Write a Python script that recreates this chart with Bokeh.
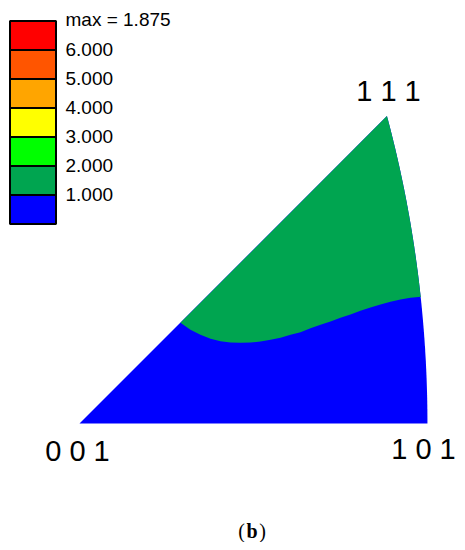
import numpy as np
from bokeh.plotting import figure
from bokeh.models import Range1d, Label
from bokeh.embed import file_html
from bokeh.resources import INLINE

# ---- data ----
legend_colors = ["#FF0000", "#FF5500", "#FFA500", "#FFFF00", "#00FF00", "#00A550", "#0000FF"]
legend_labels = ["max = 1.875", "6.000", "5.000", "4.000", "3.000", "2.000", "1.000"]
pole_labels = ["0 0 1", "1 0 1", "1 1 1"]
# green / blue contour (level 1.000) in stereographic coordinates
contour_x = [0.1202, 0.1321, 0.1440, 0.1560, 0.1679, 0.1798, 0.1917, 0.2036, 0.2155,
             0.2274, 0.2393, 0.2512, 0.2631, 0.2750, 0.2869, 0.2988, 0.3107, 0.3226,
             0.3345, 0.3464, 0.3583, 0.3702, 0.3821, 0.3940, 0.4066]
contour_y = [0.1199, 0.1115, 0.1056, 0.1008, 0.0980, 0.0964, 0.0961, 0.0964, 0.0976,
             0.0996, 0.1020, 0.1057, 0.1086, 0.1135, 0.1175, 0.1214, 0.1258, 0.1298,
             0.1342, 0.1381, 0.1417, 0.1449, 0.1476, 0.1496, 0.1508]
low_color = "#0000FF"
high_color = "#00A550"

# ---- geometry of the standard stereographic triangle ----
t_apex = np.arctan(1 / np.sqrt(2))
t = np.linspace(0, t_apex, 200)
ax_ = (np.cos(t) / np.sqrt(2)) / (1 + np.cos(t) / np.sqrt(2))
ay_ = np.sin(t) / (1 + np.cos(t) / np.sqrt(2))

S = 840.0
def PX(x):
    return (x - 79) / S
def PY(y):
    return (423 - y) / S

W, H = 457, 542
p = figure(width=W, height=H, output_backend="svg", toolbar_location=None,
           x_range=Range1d(PX(0), PX(W)), y_range=Range1d(PY(H), PY(0)),
           min_border=0)
p.axis.visible = False
p.grid.visible = False
p.outline_line_color = None

# blue full triangle
tri_x = [0.0] + list(ax_) + [0.0]
tri_y = [0.0] + list(ay_) + [0.0]
p.patch(tri_x, tri_y, fill_color=low_color, line_color=None)

# green region above contour
mask = ay_ > contour_y[-1]
gx = list(contour_x) + list(ax_[mask])
gy = list(contour_y) + list(ay_[mask])
p.patch(gx, gy, fill_color=high_color, line_color=None)

# legend boxes
tops = [20.5, 49.5, 78.5, 107.5, 136.5, 165.5, 194.5]
bh = 29
p.quad(left=[PX(9.5)] * 7, right=[PX(55.5)] * 7,
       top=[PY(tp) for tp in tops], bottom=[PY(tp + bh) for tp in tops],
       fill_color=legend_colors, line_color="black", line_width=2)

label_y = [19, 49, 78, 107, 136, 165, 194]
for lab, ly in zip(legend_labels, label_y):
    p.add_layout(Label(x=PX(65), y=PY(ly), text=lab, text_font="Liberation Sans",
                       text_font_size="19px", text_color="black",
                       text_baseline="middle", text_align="left"))

pole_pos = [(77, 450), (423, 448), (388, 90)]
for lab, (lx, ly) in zip(pole_labels, pole_pos):
    p.add_layout(Label(x=PX(lx), y=PY(ly), text=lab, text_font="Liberation Sans",
                       text_font_size="29px", text_color="black",
                       text_baseline="middle", text_align="center"))

# caption "(b)"
p.add_layout(Label(x=PX(241), y=PY(530), text="(", text_font="Liberation Serif",
                   text_font_size="20px", text_color="black",
                   text_baseline="middle", text_align="center"))
p.add_layout(Label(x=PX(251.5), y=PY(530), text="b", text_font="Liberation Serif",
                   text_font_size="20px", text_font_style="bold", text_color="black",
                   text_baseline="middle", text_align="center"))
p.add_layout(Label(x=PX(262), y=PY(530), text=")", text_font="Liberation Serif",
                   text_font_size="20px", text_color="black",
                   text_baseline="middle", text_align="center"))

open("out.html", "w").write(file_html(p, INLINE))
